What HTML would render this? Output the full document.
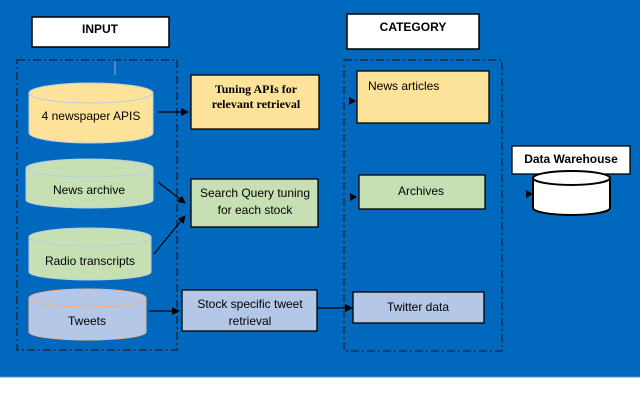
<!DOCTYPE html>
<html><head><style>
html,body{margin:0;padding:0;background:#fff}
svg{display:block}
text{font-family:"Liberation Sans",sans-serif;font-size:12px;fill:#000}
</style></head><body>
<svg width="640" height="409" viewBox="0 0 640 409">
<defs><marker id="a" markerWidth="8" markerHeight="8" refX="7" refY="4" orient="auto" markerUnits="userSpaceOnUse"><path d="M0,0 L8,4 L0,8z" fill="#000"/></marker></defs>
<rect x="0" y="0" width="640" height="377" fill="#0069bd"/>
<line x1="0" y1="377" x2="640" y2="377" stroke="#5a8fd0"/>
<!-- headers -->
<rect x="32" y="17" width="137" height="30" fill="#fff" stroke="#000" stroke-width="1.5"/>
<text x="100" y="33" text-anchor="middle" font-weight="bold" font-size="12">INPUT</text>
<rect x="347" y="14" width="132" height="35" fill="#fff" stroke="#000" stroke-width="1.5"/>
<text x="413" y="31" text-anchor="middle" font-weight="bold" font-size="12">CATEGORY</text>
<line x1="115" y1="59" x2="115" y2="75" stroke="#aab" stroke-width="1"/>
<!-- dashed containers -->
<rect x="17" y="60" width="160" height="290" fill="none" stroke="#223" stroke-width="1.3" stroke-dasharray="8,3,2,3"/>
<rect x="344" y="60" width="158" height="291" fill="none" stroke="#223" stroke-width="1.3" stroke-dasharray="8,3,2,3"/>
<!-- cylinders -->
<g stroke="#bcd" stroke-width="1">
<path d="M29,93 v40 a62,10 0 0 0 124,0 v-40" fill="#fde399"/>
<ellipse cx="91" cy="93" rx="62" ry="10" fill="#fde399"/>
<path d="M26,168 v32 a63.5,8 0 0 0 127,0 v-32" fill="#c6e0b4"/>
<ellipse cx="89.5" cy="168" rx="63.5" ry="9" fill="#c6e0b4"/>
<path d="M29,237 v35 a61,8 0 0 0 122,0 v-35" fill="#c6e0b4"/>
<ellipse cx="90" cy="237" rx="61" ry="9" fill="#c6e0b4"/>
</g>
<g stroke="#f4b183" stroke-width="1">
<path d="M29,298 v34 a58.5,8 0 0 0 117,0 v-34" fill="#b4c7e7"/>
<ellipse cx="87.5" cy="298" rx="58.5" ry="9" fill="#b4c7e7"/>
</g>
<text x="91" y="120" text-anchor="middle">4 newspaper APIS</text>
<text x="89" y="194" text-anchor="middle">News archive</text>
<text x="90" y="265" text-anchor="middle">Radio transcripts</text>
<text x="87" y="325" text-anchor="middle">Tweets</text>
<!-- middle boxes -->
<rect x="191" y="75" width="128" height="54" fill="#fde399" stroke="#000" stroke-width="1.3"/>
<text x="256" y="93" text-anchor="middle" font-family="Liberation Serif" style="font-family:'Liberation Serif',serif" font-weight="bold">Tuning APIs for</text>
<text x="256" y="108" text-anchor="middle" style="font-family:'Liberation Serif',serif" font-weight="bold">relevant retrieval</text>
<rect x="191" y="179" width="127" height="48" fill="#c6e0b4" stroke="#000" stroke-width="1.3"/>
<text x="255" y="197" text-anchor="middle" font-size="11.5">Search Query tuning</text>
<text x="255" y="214" text-anchor="middle" font-size="11.5">for each stock</text>
<rect x="182" y="290" width="135" height="41" fill="#b4c7e7" stroke="#000" stroke-width="1.3"/>
<text x="250" y="308" text-anchor="middle" font-size="11.5">Stock specific tweet</text>
<text x="250" y="325" text-anchor="middle" font-size="11.5">retrieval</text>
<!-- category boxes -->
<rect x="357" y="71" width="132" height="52" fill="#fde399" stroke="#000" stroke-width="1.3"/>
<text x="368" y="90">News articles</text>
<rect x="359" y="175" width="126" height="34" fill="#c6e0b4" stroke="#000" stroke-width="1.3"/>
<text x="421" y="195" text-anchor="middle">Archives</text>
<rect x="353" y="292" width="131" height="31" fill="#b4c7e7" stroke="#000" stroke-width="1.3"/>
<text x="418" y="311" text-anchor="middle">Twitter data</text>
<!-- data warehouse -->
<rect x="512" y="146" width="118" height="28" fill="#fff" stroke="#000" stroke-width="1.3"/>
<text x="571" y="163" text-anchor="middle" font-weight="bold" font-size="10">Data Warehouse</text>
<path d="M533,178 v30 a38.5,7 0 0 0 77,0 v-30" fill="#fff" stroke="#000" stroke-width="2"/>
<ellipse cx="571.5" cy="178" rx="38.5" ry="7" fill="#fff" stroke="#000" stroke-width="2"/>
<!-- arrows -->
<g stroke="#000" stroke-width="1.2" marker-end="url(#a)">
<line x1="158" y1="112" x2="188" y2="112"/>
<line x1="158" y1="182" x2="185" y2="203"/>
<line x1="154" y1="254" x2="185" y2="216"/>
<line x1="149" y1="311" x2="179" y2="311"/>
<line x1="317" y1="308" x2="352" y2="308"/>
</g>
<path d="M349,97 L356,101 L349,105z" fill="#000"/>
<path d="M350,193 L357,197 L350,201z" fill="#000"/>
<path d="M526,190 L533,194 L526,198z" fill="#000"/>
</svg>
</body></html>
